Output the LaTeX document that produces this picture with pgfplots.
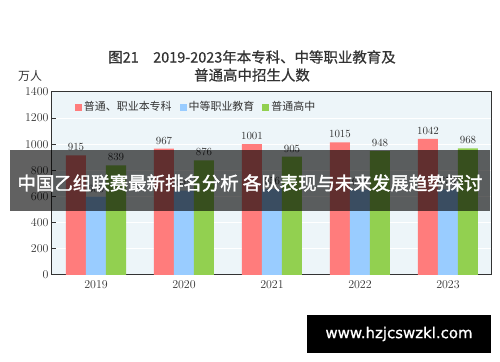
\documentclass[border=0pt]{standalone}
\usepackage{pgfplots}
\pgfplotsset{compat=1.18}
\usepackage{fontspec}
\newfontfamily\cjk{Noto Sans CJK SC}
\newfontfamily\cjkb[FakeBold=2]{Noto Sans CJK SC}
\newfontfamily\cjkm[FakeBold=0.6]{Noto Sans CJK SC}
\newfontfamily\wm[FakeBold=1]{DejaVu Sans}
\definecolor{cred}{HTML}{FF7C7C}
\definecolor{cblue}{HTML}{99CCFF}
\definecolor{cgreen}{HTML}{92D050}
\definecolor{bg}{HTML}{EDF5F9}
\definecolor{txt}{HTML}{333333}
\begin{document}
\begin{tikzpicture}
\path[use as bounding box] (0,0) rectangle (500bp,362bp);
\begin{axis}[
  at={(52bp,87bp)}, anchor=south west,
  scale only axis, width=440bp, height=183bp,
  xmin=-0.5, xmax=4.5, ymin=0, ymax=1400,
  ybar=0pt, bar width=20bp,
  /pgf/number format/1000 sep={},
  axis background/.style={fill=bg},
  axis line style={draw=txt, line width=1bp},
  xtick={0,1,2,3,4},
  xticklabels={2019,2020,2021,2022,2023},
  major x tick style={draw=none},
  extra x ticks={0.5,1.5,2.5,3.5},
  extra x tick labels={},
  extra x tick style={major tick length=4bp, tick style={draw=txt, line width=1bp}, grid=none},
  xtick pos=bottom,
  ytick={0,200,...,1400},
  ytick pos=left,
  major tick length=4bp,
  tick align=inside,
  y tick style={draw=txt, line width=1bp},
  ymajorgrids, grid style={white, line width=1bp},
  tick label style={font=\fontsize{12}{12}\selectfont, text=txt},
  xticklabel style={yshift=-2bp},
  nodes near coords,
  every node near coord/.append style={font=\fontsize{11}{11}\selectfont, text=txt, yshift=1bp},
  legend style={at={(0.045,0.918)}, anchor=west, draw=none, fill=none,
    legend columns=3, font=\cjk\fontsize{11}{11}\selectfont, text=txt,
    /tikz/every even column/.append style={column sep=6bp}},
  legend image code/.code={\fill[#1] (0bp,-3.5bp) rectangle (7bp,3.5bp);},
]
\addplot[fill=cred, draw=none] coordinates {(0,915) (1,967) (2,1001) (3,1015) (4,1042)};
\addplot[fill=cblue, draw=none] coordinates {(0,600) (1,645) (2,656) (3,651) (4,655)};
\addplot[fill=cgreen, draw=none] coordinates {(0,839) (1,876) (2,905) (3,948) (4,968)};
\legend{普通、职业本专科,中等职业教育,普通高中}
\end{axis}
\node[font=\cjkm\fontsize{14.5}{14.5}\selectfont, text=txt] at (252bp,305bp) {图21\quad 2019-2023年本专科、中等职业教育及};
\node[font=\cjkm\fontsize{14.5}{14.5}\selectfont, text=txt] at (252bp,287bp) {普通高中招生人数};
\node[font=\cjk\fontsize{12}{12}\selectfont, text=txt] at (30bp,286bp) {万人};
\fill[black, opacity=0.62] (10bp,151bp) rectangle (490bp,212bp);
\node[font=\cjkb\fontsize{18.5}{18.5}\selectfont, text=white] at (250bp,179bp) {中国乙组联赛最新排名分析 各队表现与未来发展趋势探讨};
\fill[black] (307bp,9bp) rectangle (491bp,47bp);
\node[font=\wm\fontsize{15}{15}\selectfont, text=white] at (399bp,28bp) {www.hzjcswzkl.com};
\end{tikzpicture}
\end{document}
